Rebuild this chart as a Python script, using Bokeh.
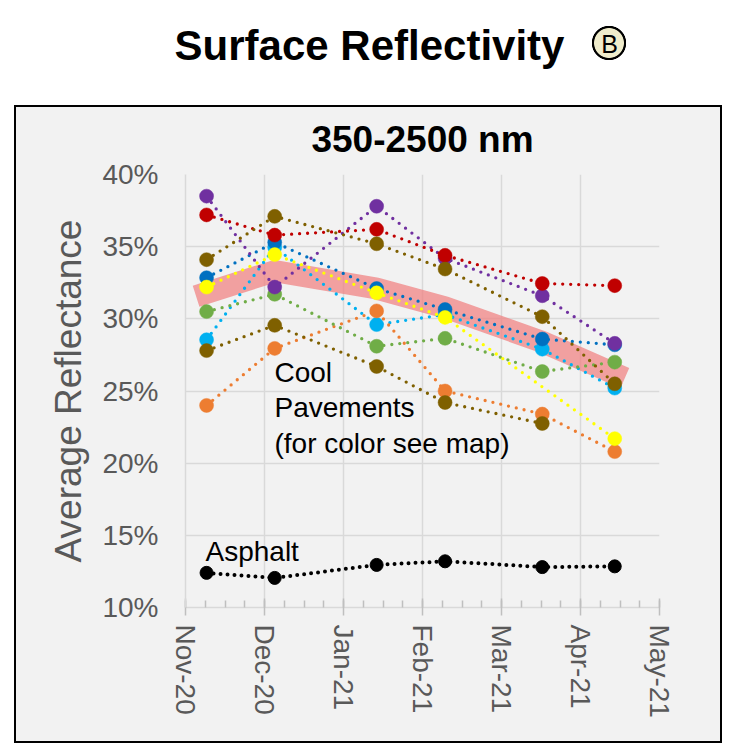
import calendar
from datetime import date

from bokeh.plotting import figure
from bokeh.models import ColumnDataSource, Range1d, FixedTicker, Label
from bokeh.embed import file_html
from bokeh.resources import INLINE

# ---------------- data ----------------
sample_dates = ["2020-11-09", "2020-12-05", "2021-01-14", "2021-02-09", "2021-03-17", "2021-04-14"]

month_tick_labels = ["Nov-20", "Dec-20", "Jan-21", "Feb-21", "Mar-21", "Apr-21", "May-21"]
y_ticks = [10, 15, 20, 25, 30, 35, 40]

purple = [38.5, 32.2, 37.8, 34.2, 31.6, 28.3]
red = [37.2, 35.8, 36.2, 34.4, 32.45, 32.3]
brown = [34.1, 37.1, 35.2, 33.45, 30.15, 25.5]
dark_blue = [32.85, 35.3, 32.1, 30.65, 28.6, 28.2]
light_blue = [28.55, 34.95, 29.6, 30.3, 27.9, 25.2]
yellow = [32.2, 34.45, 31.8, 30.1, None, 21.7]
green = [30.5, 31.7, 28.1, 28.65, 26.35, 27.0]
brown2 = [27.8, 29.55, 26.7, 24.2, 22.75, None]
orange = [24.0, 27.95, 30.55, 25.0, 23.4, 20.8]
asphalt = [12.4, 12.05, 12.95, 13.2, 12.8, 12.85]
cool_band = [31.8, 33.3, 32.1, 30.8, 28.4, 26.2]

FONT = "Liberation Sans"
GRAY_TXT = "#595959"
GRID = "#D9D9D9"
PANEL = "#F2F2F2"


def month_pos(s):
    d = date.fromisoformat(s)
    idx = (d.year - 2020) * 12 + d.month - 11
    return idx + (d.day - 1) / calendar.monthrange(d.year, d.month)[1]


xs = [month_pos(s) for s in sample_dates]

# ---------------- figure ----------------
p = figure(width=739, height=752, x_range=Range1d(0, 6), y_range=Range1d(10, 40),
           toolbar_location=None, output_backend="svg",
           min_border_left=185, min_border_right=80, min_border_top=174, min_border_bottom=145,
           background_fill_color=None, border_fill_color=None,
           outline_line_color=None)
p.title.text = ""

# page styling: white page, grey chart panel with black frame, cream badge circle
p.styles = {
    "background": (
        "radial-gradient(circle 17.5px at 609px 43px, #EFECCB 14.5px, #000000 15.3px, "
        "#000000 16.8px, rgba(255,255,255,0) 17.5px), "
        "linear-gradient(#F2F2F2, #F2F2F2) 16px 107px / 704px 634px no-repeat, "
        "linear-gradient(#000000, #000000) 14px 105px / 708px 638px no-repeat, "
        "#ffffff"
    )
}

# titles (placed in the top side panel so they are not clipped to the frame)
p.add_layout(Label(x=369, y=45, x_units="canvas", y_units="canvas",
                   text="Surface Reflectivity", text_font=FONT, text_font_style="bold",
                   text_font_size="42px", text_color="black",
                   text_align="center", text_baseline="middle"), "above")
p.add_layout(Label(x=609, y=43, x_units="canvas", y_units="canvas",
                   text="B", text_font=FONT, text_font_size="25px", text_color="black",
                   text_align="center", text_baseline="middle"), "above")
p.add_layout(Label(x=422, y=139, x_units="canvas", y_units="canvas",
                   text="350-2500 nm", text_font=FONT, text_font_style="bold",
                   text_font_size="37px", text_color="black",
                   text_align="center", text_baseline="middle"), "above")

# axes
p.xaxis.ticker = FixedTicker(ticks=list(range(7)), minor_ticks=[i / 4 for i in range(25)])
p.xaxis.major_label_overrides = {i: lab for i, lab in enumerate(month_tick_labels)}
p.xaxis.major_label_orientation = "vertical"
p.xaxis.major_label_text_font = FONT
p.xaxis.major_label_text_font_size = "28px"
p.xaxis.major_label_text_color = GRAY_TXT
p.xaxis.major_label_standoff = 9
p.xaxis.axis_line_color = GRID
p.xaxis.axis_line_width = 1.5
p.xaxis.major_tick_line_color = "#BFBFBF"
p.xaxis.major_tick_line_width = 1.5
p.xaxis.major_tick_in = 9
p.xaxis.major_tick_out = 8
p.xaxis.minor_tick_line_color = "#BFBFBF"
p.xaxis.minor_tick_line_width = 1.5
p.xaxis.minor_tick_in = 7
p.xaxis.minor_tick_out = 0

p.yaxis.ticker = FixedTicker(ticks=y_ticks)
p.yaxis.major_label_overrides = {v: f"{v}%" for v in y_ticks}
p.yaxis.major_label_text_font = FONT
p.yaxis.major_label_text_font_size = "28px"
p.yaxis.major_label_text_color = GRAY_TXT
p.yaxis.major_tick_line_color = None
p.yaxis.minor_tick_line_color = None
p.yaxis.major_tick_in = 0
p.yaxis.major_tick_out = 0
p.yaxis.major_label_standoff = 27
p.yaxis.axis_line_color = GRID
p.yaxis.axis_line_width = 1.5
p.yaxis.axis_label = "Average Reflectance"
p.yaxis.axis_label_text_font = FONT
p.yaxis.axis_label_text_font_size = "37px"
p.yaxis.axis_label_text_font_style = "normal"
p.yaxis.axis_label_text_color = GRAY_TXT
p.yaxis.axis_label_standoff = 10

p.xgrid.ticker = FixedTicker(ticks=list(range(7)))
p.ygrid.ticker = FixedTicker(ticks=y_ticks)
p.grid.grid_line_color = GRID
p.grid.grid_line_width = 1.5

# pink band (cool pavement average)
p.line(xs, cool_band, line_width=22, line_color="#F08080", line_alpha=0.72,
       line_cap="square", line_join="round")

series = [
    (light_blue, "#00B0F0"),
    (dark_blue, "#0070C0"),
    (orange, "#ED7D31"),
    (green, "#70AD47"),
    (purple, "#7030A0"),
    (red, "#C00000"),
    (yellow, "#FFFF00"),
    (brown, "#7F6000"),
    (brown2, "#7F6000"),
]

for vals, col in series:
    px = [x for x, v in zip(xs, vals) if v is not None]
    py = [v for v in vals if v is not None]
    src = ColumnDataSource(dict(x=px, y=py))
    p.line("x", "y", source=src, line_color=col, line_width=3.3, line_dash="0 8", line_cap="round")
    p.scatter("x", "y", source=src, size=14, fill_color=col, line_color=col, line_width=0.5)

src_a = ColumnDataSource(dict(x=xs, y=asphalt))
p.line("x", "y", source=src_a, line_color="black", line_width=4, line_dash="0 7", line_cap="round")
p.scatter("x", "y", source=src_a, size=13, fill_color="black", line_color="black")

for txt, yy in [("Cool", 371.5), ("Pavements", 407.3), ("(for color see map)", 442.8)]:
    p.add_layout(Label(x=274, y=yy, x_units="canvas", y_units="canvas", text=txt,
                       text_font=FONT, text_font_size="28px", text_color="black",
                       text_baseline="middle"))
p.add_layout(Label(x=205, y=551, x_units="canvas", y_units="canvas", text="Asphalt",
                   text_font=FONT, text_font_size="28px", text_color="black",
                   text_baseline="middle"))

open("out.html", "w").write(file_html(p, INLINE))
